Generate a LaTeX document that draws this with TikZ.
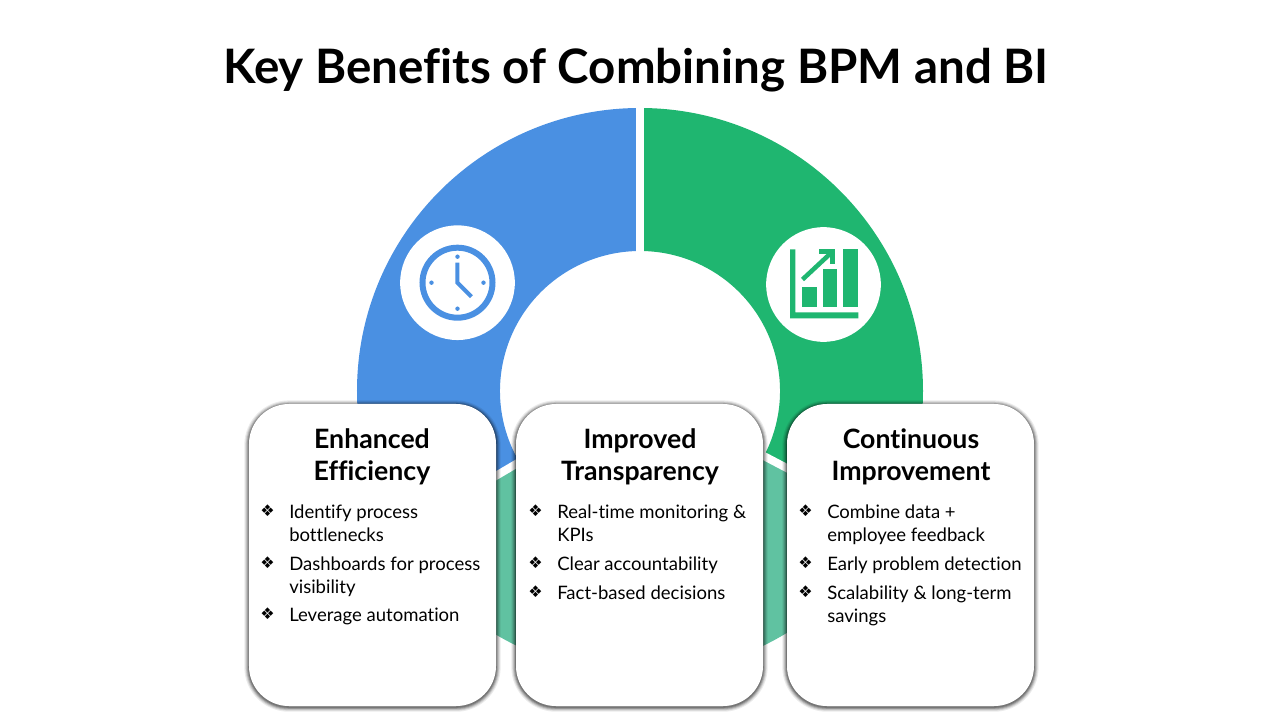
\documentclass[tikz,border=0pt]{standalone}
\usepackage{fontspec}
\setmainfont{Lato}[Ligatures=NoCommon]
\newfontfamily\symfont{DejaVu Sans}
\usetikzlibrary{positioning}

\definecolor{ringblue}{RGB}{74,144,226}
\definecolor{ringgreen}{RGB}{31,182,112}
\definecolor{ringteal}{RGB}{96,194,161}

\tikzset{
  bpm-gap/.style={draw=white, line width=6pt},
  bpm-badge/.style={circle, fill=white, inner sep=0pt, minimum size=86pt},
  bpm-card/.style={
    rectangle, rounded corners=30pt, fill=white, inner sep=0pt,
    minimum width=185.25pt, minimum height=226.5pt,
    preaction={draw=black, draw opacity=0.08, line width=7pt, transform canvas={yshift=-0.8pt}},
    preaction={draw=black, draw opacity=0.10, line width=5.4pt, transform canvas={yshift=-0.8pt}},
    preaction={draw=black, draw opacity=0.14, line width=4pt, transform canvas={yshift=-0.8pt}},
    preaction={draw=black, draw opacity=0.18, line width=2.6pt, transform canvas={yshift=-0.8pt}},
    preaction={draw=black, draw opacity=0.20, line width=1.2pt, transform canvas={yshift=-0.8pt}}
  },
  bpm-title/.style={font=\fontsize{35.6}{43}\selectfont\bfseries, text=black},
  bpm-head/.style={font=\fontsize{20}{24}\selectfont\bfseries, align=center, text=black},
  bpm-mark/.style={font=\fontsize{12}{14}\selectfont\symfont, inner sep=0pt, text=black},
  bpm-item/.style={font=\fontsize{13.9}{16.9}\selectfont, align=left, inner sep=0pt, anchor=north west, text=black}
}

\begin{document}
\begin{tikzpicture}[x=0.75pt, y=0.75pt]

    \useasboundingbox (-640,-329) rectangle (640,391);

    % Ring: lower part first, then the two upper sectors
    \fill[ringteal] (210.5:283) arc[start angle=210.5, end angle=332.3, radius=283]
        -- (332.3:140) arc[start angle=332.3, end angle=210.5, radius=140] -- cycle;
    \fill[ringblue] (90:283) arc[start angle=90, end angle=210.5, radius=283]
        -- (210.5:140) arc[start angle=210.5, end angle=90, radius=140] -- cycle;
    \fill[ringgreen] (90:283) arc[start angle=90, end angle=-27.7, radius=283]
        -- (-27.7:140) arc[start angle=-27.7, end angle=90, radius=140] -- cycle;

    % Ring: white gaps
    \draw[bpm-gap] (90:139) -- (90:285);
    \draw[bpm-gap] (210.5:139) -- (210.5:285);
    \draw[bpm-gap] (-27.7:139) -- (-27.7:285);

    % Icon: clock
    \node[bpm-badge] (clock) at (-182.5,108.3) {};
    \begin{scope}[shift={(clock.center)}]
        \draw[ringblue, line width=4.5pt] (0,0) circle[radius=35];
        \foreach \a in {0,90,180,270}
            \fill[ringblue] (\a:26) circle[radius=2.2];
        \draw[ringblue, line width=3pt] (0,20) -- (0,0) -- (14,-14);
    \end{scope}

    % Icon: chart
    \node[bpm-badge] (chart) at (183.5,106.5) {};
    \begin{scope}[shift={(chart.center)}]
        \fill[ringgreen] (-33.5,35.2) -- (-28.2,35.2) -- (-28.2,-27.8) -- (34.8,-27.8) -- (34.8,-33.8) -- (-33.5,-33.8) -- cycle;
        \fill[ringgreen] (-21.8,-22.2) rectangle (-6.8,-2.2);
        \fill[ringgreen] (-0.8,-22.2) rectangle (13.8,15.5);
        \fill[ringgreen] (19.8,-22.2) rectangle (34.8,35.2);
        \draw[ringgreen, line width=3.4pt] (-21,5) -- (8,32);
        \draw[ringgreen, line width=3.8pt] (-4.5,33) -- (9,33) -- (9,20);
    \end{scope}

    % Nodes: title and cards
    \node[bpm-title] (title) at (-4,321) {Key Benefits of Combining BPM and BI};
    \node[bpm-card] (efficiency)   at (-267.5,-164) {};
    \node[bpm-card] (transparency) at (-0.5,-164) {};
    \node[bpm-card] (improvement)  at (270.5,-164) {};

    % Labels: card headings
    \node[bpm-head] (head1) at (-268,-66) {Enhanced\\Efficiency};
    \node[bpm-head] (head2) at (0,-66) {Improved\\Transparency};
    \node[bpm-head] (head3) at (271,-66) {Continuous\\Improvement};

    % Labels: bullet lists
    \foreach \nm/\xx/\yy/\txt in {
        a1/-351/-125/{Identify process\\bottlenecks},
        a2/-351/-177/{Dashboards for process\\visibility},
        a3/-351/-228/{Leverage automation},
        b1/-83/-125/{Real-time monitoring \&\\KPIs},
        b2/-83/-177/{Clear accountability},
        b3/-83/-206/{Fact-based decisions},
        c1/187/-125/{Combine data +\\employee feedback},
        c2/187/-177/{Early problem detection},
        c3/187/-206/{Scalability \& long-term\\savings}} {
        \node[bpm-mark] (m\nm) at (\xx-21.5,\yy+5.5) {❖};
        \node[bpm-item] (t\nm) at (\xx,\yy+11) {\txt};
    }

\end{tikzpicture}
\end{document}
